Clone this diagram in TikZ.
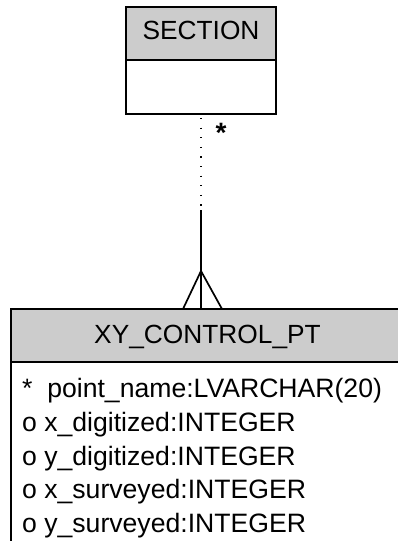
\documentclass[tikz,border=0pt]{standalone}
\usepackage{fontspec}
\setmainfont{Liberation Sans}
\definecolor{hdrgray}{RGB}{204,204,204}
\begin{document}
\begin{tikzpicture}[x=1pt,y=1pt,
  box/.style={draw=black, line width=1.9pt, rectangle, inner sep=0pt, outer sep=0pt},
  hdr/.style={box, fill=hdrgray, font=\fontsize{26.3}{30}\selectfont, text height=18.8pt},
  bodybox/.style={box, fill=white},
  attr/.style={anchor=base west, inner sep=0pt, font=\fontsize{26.6}{30}\selectfont},
  conn/.style={line width=1.7pt},
  dotconn/.style={line width=1.2pt, dash pattern=on 1.2pt off 8.4pt}
]
\useasboundingbox (0,0) rectangle (398,-541);
\begin{scope}
\clip (0,0) rectangle (398,-541);
% SECTION entity
\node[hdr, text depth=6pt, minimum width=150pt, minimum height=53pt, anchor=north west] (sech) at (126,-7) {SECTION};
\node[bodybox, minimum width=150pt, minimum height=54pt, anchor=north] (secb) at (sech.south) {};
% XY_CONTROL_PT entity
\node[hdr, text depth=3pt, minimum width=393pt, minimum height=53pt, anchor=north west] (xyh) at (11,-309) {XY\_CONTROL\_PT};
\node[bodybox, minimum width=393pt, minimum height=220pt, anchor=north] (xyb) at (xyh.south) {};
\end{scope}
% attributes
\node[attr] (a1) at (22,-397) {*\ \ point\_name:LVARCHAR(20)};
\node[attr] (a2) at (22,-431) {o x\_digitized:INTEGER};
\node[attr] (a3) at (22,-465) {o y\_digitized:INTEGER};
\node[attr] (a4) at (22,-498) {o x\_surveyed:INTEGER};
\node[attr] (a5) at (22,-532) {o y\_surveyed:INTEGER};
% relationship
\coordinate (top) at (secb.south);
\coordinate (mid) at (top |- 0,-210);
\coordinate (bot) at (top |- xyh.north);
\coordinate (apex) at (top |- 0,-271);
\coordinate (fl) at (183,0 |- xyh.north);
\coordinate (fr) at (222,0 |- xyh.north);
\draw[dotconn] ([yshift=-4pt]top) -- (mid);
\draw[conn] (mid) -- (bot);
\draw[conn] (fl) -- (apex) -- (fr);
\node[font=\fontsize{28}{30}\selectfont\bfseries, inner sep=0pt] (card) at (221,-133) {*};
\end{tikzpicture}
\end{document}
